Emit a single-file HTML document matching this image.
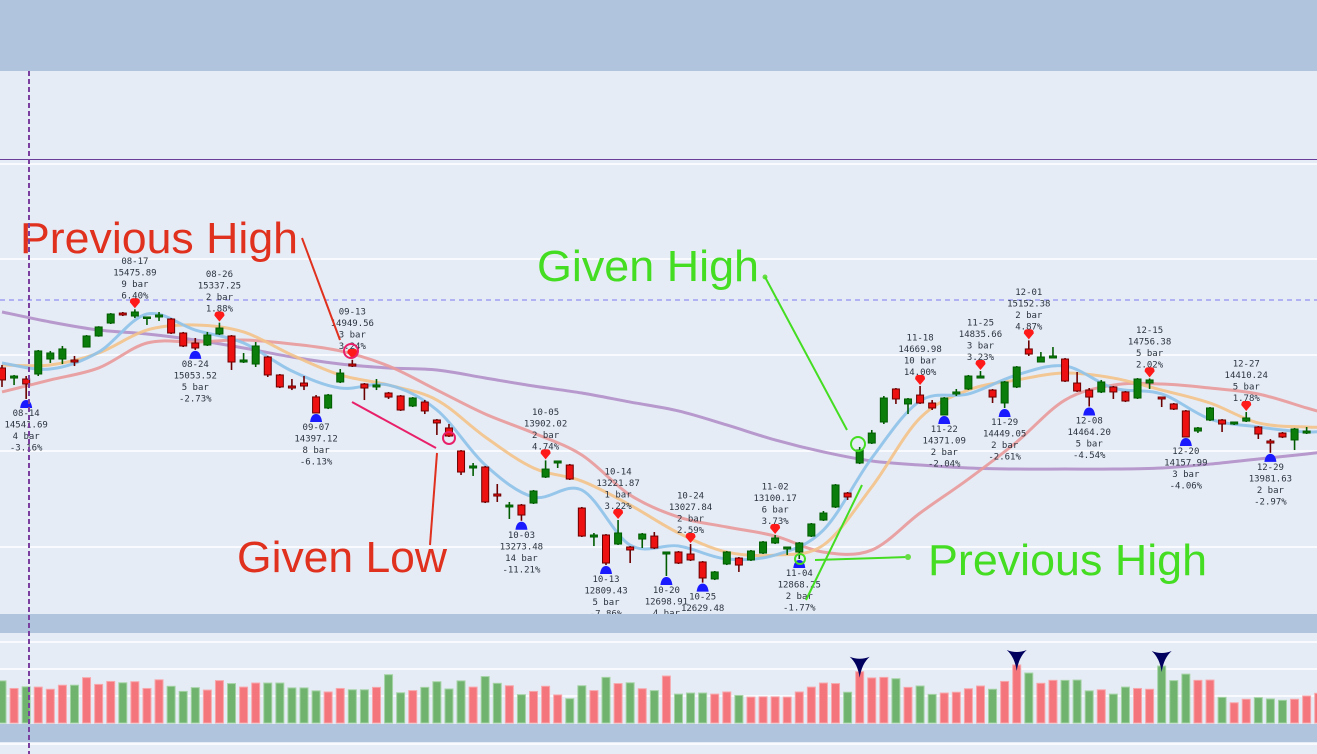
<!DOCTYPE html>
<html><head><meta charset="utf-8"><style>
html,body{margin:0;padding:0;background:#e6ecf6;}
svg{display:block;}
.lbl{font-family:"DejaVu Sans Mono","Liberation Mono",monospace;font-size:9px;fill:#2a3440;text-anchor:middle;}
.ann{font-family:"Liberation Sans",sans-serif;font-size:44px;}
</style></head><body>
<svg id="chart" width="1317" height="754" viewBox="0 0 1317 754" xmlns="http://www.w3.org/2000/svg">
<rect x="0" y="0" width="1317" height="754" fill="#e6ecf6"/>
<rect x="0" y="0" width="1317" height="71" fill="#b0c4de"/>
<line x1="0" y1="159.5" x2="1317" y2="159.5" stroke="#6a3d9a" stroke-width="1"/>
<line x1="0" y1="164" x2="1317" y2="164" stroke="#fff" stroke-width="1.5"/>
<g id="grid"></g>
<line x1="0" y1="300" x2="1317" y2="300" stroke="#8f8ff2" stroke-width="1.2" stroke-dasharray="5,4"/>
<defs><clipPath id="mainclip"><rect x="0" y="71" width="1317" height="543"/></clipPath></defs>
<g clip-path="url(#mainclip)">
<g id="mas"></g>
<g id="candles"></g>
<g id="markers"></g>
<g id="annotations">
  <text class="ann" x="20" y="253" fill="#e0301e" textLength="278" lengthAdjust="spacingAndGlyphs">Previous High</text>
  <line x1="302" y1="238" x2="340" y2="340" stroke="#e0301e" stroke-width="2"/>
  <circle cx="351" cy="351" r="7" fill="none" stroke="#e8206a" stroke-width="2"/>
  <line x1="352" y1="402" x2="436" y2="448" stroke="#e8206a" stroke-width="2"/>
  <circle cx="449" cy="438" r="6" fill="none" stroke="#e8206a" stroke-width="2"/>
  <line x1="430" y1="545" x2="437" y2="453" stroke="#e0301e" stroke-width="2"/>
  <text class="ann" x="237" y="572" fill="#e0301e" textLength="210" lengthAdjust="spacingAndGlyphs">Given Low</text>
  <text class="ann" x="537" y="281" fill="#44dd22" textLength="222" lengthAdjust="spacingAndGlyphs">Given High</text>
  <circle cx="765" cy="277" r="2.5" fill="#66dd44"/>
  <line x1="765" y1="277" x2="847" y2="430" stroke="#44dd22" stroke-width="2"/>
  <circle cx="858" cy="444" r="7" fill="none" stroke="#44dd22" stroke-width="2"/>
  <circle cx="800" cy="559" r="5" fill="none" stroke="#44dd22" stroke-width="2"/>
  <line x1="815" y1="560" x2="908" y2="557" stroke="#44dd22" stroke-width="2"/>
  <circle cx="908" cy="557" r="3" fill="#66dd44"/>
  <line x1="806" y1="600" x2="862" y2="485" stroke="#44dd22" stroke-width="2"/>
  <text class="ann" x="928" y="575" fill="#44dd22" textLength="279" lengthAdjust="spacingAndGlyphs">Previous High</text>
</g>
</g>
<rect x="0" y="614" width="1317" height="19" fill="#b0c4de"/>
<g id="vgrid"></g>
<g id="volume"></g>
<rect x="0" y="724" width="1317" height="18" fill="#b0c4de"/>
<line x1="0" y1="744" x2="1317" y2="744" stroke="#fff" stroke-width="1.5"/>
<line x1="29" y1="71" x2="29" y2="754" stroke="#7b3fa0" stroke-width="2" stroke-dasharray="5,3"/>
</svg>
<script>
const opens=[14865,14760,14750,14802,14958,14958,14948,15083,15198,15333,15437,15406,15385,15396,15375,15229,15125,15104,15219,15198,14927,14906,14979,14792,14677,14708,14563,14448,14719,14906,14698,14667,14604,14573,14469,14510,14323,14240,14000,13823,13833,13552,13417,13437,13458,13729,13875,13854,13406,13104,13125,13031,13000,13083,13114,12927,12948,12927,12844,12667,12823,12885,12865,12937,13042,12979,12948,13114,13281,13417,13562,13875,14083,14302,14646,14490,14583,14500,14375,14594,14646,14760,14635,14500,14667,15063,14927,14969,14958,14708,14635,14615,14667,14615,14552,14708,14562,14490,14417,14208,14323,14323,14281,14312,14250,14104,14187,14115,14187];
const highs=[14896,14792,14781,15052,15042,15094,14990,15208,15300,15437,15448,15476,15396,15448,15385,15240,15177,15240,15337,15208,15021,15135,14990,14802,14750,14781,14583,14594,14854,14950,14708,14750,14615,14583,14562,14531,14333,14281,14010,13875,13844,13656,13469,13448,13594,13902,13896,13865,13417,13146,13135,13281,13010,13146,13156,12948,12958,13031,12854,12750,12958,12896,12969,13062,13125,13000,13052,13250,13375,13656,13573,14042,14219,14573,14656,14552,14677,14531,14562,14646,14792,14833,14646,14729,14885,15152,15031,15083,14969,14823,14656,14740,14677,14625,14760,14756,14562,14500,14427,14250,14458,14333,14302,14406,14260,14125,14198,14240,14250];
const lows=[14667,14687,14542,14781,14917,14906,14885,15083,15190,15323,15406,15385,15313,15354,15219,15083,15053,15094,15208,14844,14917,14875,14771,14656,14635,14635,14396,14437,14708,14875,14531,14635,14542,14417,14458,14385,14167,14146,13750,13740,13458,13469,13292,13273,13448,13719,13823,13698,13104,13010,12812,13021,12833,12990,12979,12698,12823,12854,12629,12656,12812,12740,12854,12927,13031,12917,12875,13104,13271,13406,13490,13864,14073,14281,14490,14385,14490,14427,14375,14573,14635,14760,14500,14448,14656,14990,14927,14969,14719,14615,14464,14604,14542,14510,14542,14646,14458,14427,14146,14188,14312,14198,14271,14302,14125,13981,14135,14010,14177];
const closes=[14740,14781,14698,15042,15021,15063,14927,15198,15292,15427,15417,15448,15396,15417,15229,15094,15073,15208,15281,14927,14948,15094,14792,14667,14656,14677,14396,14583,14812,14885,14656,14688,14562,14427,14552,14417,14292,14156,13781,13844,13469,13531,13437,13333,13583,13812,13896,13708,13114,13125,12833,13146,12969,13135,12990,12948,12833,12865,12677,12740,12948,12812,12958,13052,13094,13000,13042,13240,13354,13646,13521,14010,14187,14552,14542,14542,14500,14448,14552,14615,14781,14781,14562,14719,14875,15010,14979,14990,14729,14625,14562,14719,14615,14521,14750,14740,14542,14437,14146,14240,14448,14281,14302,14344,14177,14083,14146,14229,14208];
const volumes=[156,128,134,133,125,140,140,168,143,154,149,153,128,160,136,117,131,122,157,146,133,148,148,148,130,130,119,115,128,123,123,132,179,112,120,132,153,126,156,133,172,147,138,105,117,136,104,90,138,120,169,146,149,127,120,174,107,111,111,107,115,102,96,97,97,96,115,133,148,146,114,190,167,169,164,132,137,106,111,114,127,137,125,154,215,185,147,158,158,159,119,123,107,133,128,125,211,157,181,158,159,95,75,88,94,89,84,88,100,110];
const volumeUp=[1,0,1,0,0,0,1,0,0,0,1,0,0,0,1,1,1,0,0,1,0,0,1,1,1,1,1,0,0,1,1,0,1,1,0,1,1,1,1,0,1,1,0,1,0,0,0,1,1,0,1,0,1,0,1,0,1,1,1,0,0,1,0,0,0,0,0,0,0,0,1,0,0,0,1,0,1,1,0,0,0,0,1,0,0,1,0,0,1,1,1,0,1,1,0,0,1,1,1,0,0,1,0,0,1,1,1,0,0,0];
const volumeSignals=[71,84,96];
const maIndex=[0,4,8,12,16,20,24,28,32,36,40,44,48,52,56,60,64,68,72,76,80,84,88,92,96,100,104,108,110];
const maFast=[14917,14854,15031,15427,15260,15125,14833,14656,14687,14427,13854,13521,13593,13020,13010,12875,12916,13177,13927,14521,14594,14792,14885,14656,14594,14333,14250,14198,14219];
const maMid=[14896,14896,15021,15260,15313,15240,15000,14792,14687,14531,14146,13823,13687,13437,13146,12947,12916,13020,13625,14344,14635,14740,14812,14760,14635,14500,14292,14250,14250];
const maSlow=[14615,14740,14865,15125,15135,15156,15115,15042,14885,14635,14385,14187,13958,13541,13312,13208,13114,12947,12968,13354,13708,14094,14531,14687,14698,14656,14594,14448,14375];
const maLong=[15448,15344,15260,15219,15156,15073,14979,14906,14865,14844,14760,14677,14604,14510,14417,14271,14115,13990,13896,13854,13823,13812,13812,13812,13823,13864,13917,13969,14000];
const gridPrices=[16000,15000,14000,13000];
const volGrid=[300,200,100];
const pivotHighIdx=[11,18,29,45,51,57,64,76,81,85,95,103];
const pivotHighText=[["08-17","15475.89","9 bar","6.40%"],["08-26","15337.25","2 bar","1.88%"],["09-13","14949.56","3 bar","3.24%"],["10-05","13902.02","2 bar","4.74%"],["10-14","13221.87","1 bar","3.22%"],["10-24","13027.84","2 bar","2.59%"],["11-02","13100.17","6 bar","3.73%"],["11-18","14669.98","10 bar","14.00%"],["11-25","14835.66","3 bar","3.23%"],["12-01","15152.38","2 bar","4.87%"],["12-15","14756.38","5 bar","2.02%"],["12-27","14410.24","5 bar","1.78%"]];
const pivotLowIdx=[2,16,26,43,50,55,58,66,78,83,90,98,105];
const pivotLowText=[["08-14","14541.69","4 bar","-3.16%"],["08-24","15053.52","5 bar","-2.73%"],["09-07","14397.12","8 bar","-6.13%"],["10-03","13273.48","14 bar","-11.21%"],["10-13","12809.43","5 bar","-7.86%"],["10-20","12698.91","4 bar","-4.12%"],["10-25","12629.48","1 bar","-0.53%"],["11-04","12868.25","2 bar","-1.77%"],["11-22","14371.09","2 bar","-2.04%"],["11-29","14449.05","2 bar","-2.61%"],["12-08","14464.20","5 bar","-4.54%"],["12-20","14157.99","3 bar","-4.06%"],["12-29","13981.63","2 bar","-2.97%"]];

const NS="http://www.w3.org/2000/svg";
const xAt=i=>2+12.08*i;
const yP=p=>355+(15000-p)*0.096;
const yV=v=>723-v*0.27;
function mk(tag,parent,attrs){const e=document.createElementNS(NS,tag);for(const k in attrs)e.setAttribute(k,attrs[k]);parent.appendChild(e);return e;}

const grid=document.getElementById('grid');
gridPrices.forEach(p=>{const l=mk('line',grid,{x1:0,x2:1317,y1:yP(p),y2:yP(p),stroke:'#fff','stroke-width':1.5});

});
const vgrid=document.getElementById('vgrid');
volGrid.forEach(v=>{const l=mk('line',vgrid,{x1:0,x2:1317,y1:yV(v),y2:yV(v),stroke:'#fff','stroke-width':1.5});

});

function smooth(pts){let d=`M${pts[0][0]},${pts[0][1]}`;for(let i=0;i<pts.length-1;i++){const p0=pts[Math.max(0,i-1)],p1=pts[i],p2=pts[i+1],p3=pts[Math.min(pts.length-1,i+2)];
const c1=[p1[0]+(p2[0]-p0[0])/6,p1[1]+(p2[1]-p0[1])/6],c2=[p2[0]-(p3[0]-p1[0])/6,p2[1]-(p3[1]-p1[1])/6];
d+=` C${c1[0]},${c1[1]} ${c2[0]},${c2[1]} ${p2[0]},${p2[1]}`;}return d;}
const mas=document.getElementById('mas');
[[maLong,'#b190c9','ma-long'],[maSlow,'#e99a9a','ma-slow'],[maMid,'#f3c389','ma-mid'],[maFast,'#8ec2ea','ma-fast']].forEach(([arr,col,nm])=>{
const pts=arr.map((v,k)=>[xAt(maIndex[k]),yP(v)]);
const p=mk('path',mas,{d:smooth(pts),fill:'none',stroke:col,'stroke-width':3,'stroke-opacity':0.9});

});

const cg=document.getElementById('candles');
opens.forEach((o,i)=>{const c=closes[i],x=xAt(i),up=c>=o;
const g=mk('g',cg,{});


const dark=up?'#005c00':'#6b0000';
mk('line',g,{x1:x,x2:x,y1:yP(highs[i]),y2:yP(lows[i]),stroke:dark,'stroke-width':1.6});
const t=yP(Math.max(o,c)),b=yP(Math.min(o,c));
mk('rect',g,{x:x-3.5,y:t,width:7,height:Math.max(1.5,b-t),fill:up?'#0a7d0a':'#ee1111',stroke:dark,'stroke-width':1});});

const mg=document.getElementById('markers');
pivotHighIdx.forEach((i,k)=>{const x=xAt(i),y=yP(highs[i])-1;
const m=mk('path',mg,{d:`M${x},${y} L${x-5},${y-6} Q${x-5},${y-11} ${x},${y-10} Q${x+5},${y-11} ${x+5},${y-6} Z`,fill:'#ff1a1a'});


pivotHighText[k].forEach((s,j)=>{const t=mk('text',mg,{class:'lbl',x:x,y:y-13-(3-j)*11.5+3});t.textContent=s;

});});
pivotLowIdx.forEach((i,k)=>{const x=xAt(i),y=yP(lows[i])+1;
const m=mk('path',mg,{d:`M${x-6},${y+8} Q${x-5},${y} ${x},${y} Q${x+5},${y} ${x+6},${y+8} Z`,fill:'#1a1aff'});


pivotLowText[k].forEach((s,j)=>{const t=mk('text',mg,{class:'lbl',x:x,y:y+13+j*11.5+3});t.textContent=s;

});});

const vg=document.getElementById('volume');
volumes.forEach((v,i)=>{const x=xAt(i),up=volumeUp[i]===1;
const r=mk('rect',vg,{x:x-4,y:yV(v),width:8,height:723-yV(v),fill:up?'#6fb36f':'#f4757b',stroke:up?'#a5d3a5':'#f7a8ac','stroke-width':1});

});
volumeSignals.forEach(i=>{const x=xAt(i),y=yV(volumes[i]);
const a=mk('path',vg,{d:`M${x},${y+6} Q${x-2},${y-8} ${x-10},${y-15} Q${x},${y-11} ${x+10},${y-15} Q${x+2},${y-8} ${x},${y+6} Z`,fill:'#00005e'});

});
</script>
</body></html>
